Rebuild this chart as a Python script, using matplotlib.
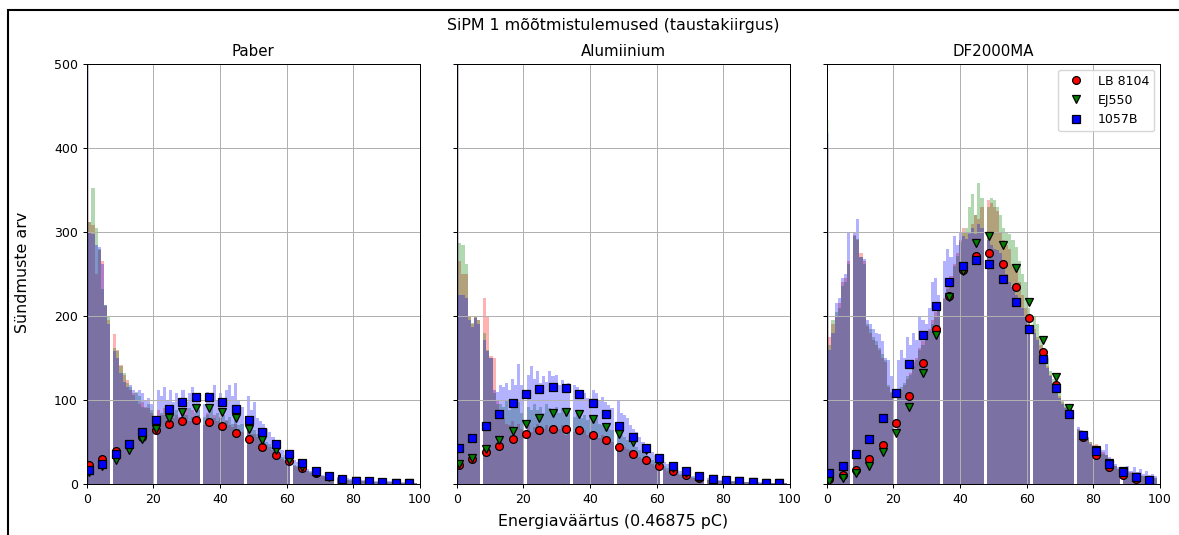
import numpy as np
import matplotlib
matplotlib.use("Agg")
import matplotlib.pyplot as plt
from matplotlib.patches import Rectangle

# ---------------- data ----------------
panel_titles = ["Paber", "Alumiinium", "DF2000MA"]
series_labels = ["LB 8104", "EJ550", "1057B"]

# energy channels of the fine histograms
channels = list(range(100))

# fine histogram counts per channel (red = LB 8104, green = EJ550, blue = 1057B)
hist_paber_r = [620, 312, 308, 250, 278, 265, 212, 195, 178, 160,
                142, 130, 124, 112, 108, 100, 95, 98, 92, 90,
                85, 88, 82, 90, 85, 88, 78, 82, 80, 86,
                90, 75, 88, 80, 82, 70, 85, 78, 82, 75,
                80, 72, 76, 70, 68, 72, 65, 62, 66, 60,
                60, 56, 54, 50, 47, 44, 40, 36, 33, 30,
                27, 25, 22, 20, 18, 17, 15, 13, 12, 11,
                10, 9, 8, 8, 7, 6, 6, 5, 5, 4,
                4, 4, 3, 3, 3, 3, 2, 2, 2, 2,
                2, 2, 1, 1, 1, 1, 1, 1, 1, 1]
hist_paber_g = [620, 312, 352, 305, 280, 232, 213, 200, 162, 158,
                140, 132, 120, 115, 106, 110, 105, 92, 90, 95,
                88, 80, 85, 82, 92, 80, 85, 88, 75, 90,
                82, 90, 80, 85, 88, 80, 82, 90, 78, 85,
                78, 82, 75, 80, 72, 78, 70, 72, 68, 65,
                64, 60, 56, 52, 50, 48, 44, 40, 36, 32,
                29, 26, 23, 21, 19, 17, 15, 14, 13, 12,
                11, 10, 9, 8, 7, 7, 6, 6, 5, 5,
                4, 4, 4, 3, 3, 3, 3, 2, 2, 2,
                2, 2, 2, 1, 1, 1, 1, 1, 1, 1]
hist_paber_b = [620, 300, 298, 285, 282, 262, 213, 190, 158, 150,
                132, 122, 115, 118, 112, 108, 112, 108, 100, 102,
                95, 112, 105, 115, 100, 112, 98, 108, 100, 112,
                98, 108, 116, 100, 102, 95, 110, 100, 118, 100,
                108, 98, 112, 118, 105, 120, 100, 92, 105, 88,
                98, 78, 75, 72, 66, 62, 56, 50, 44, 40,
                35, 31, 28, 26, 22, 20, 18, 16, 15, 14,
                12, 11, 10, 9, 9, 8, 8, 7, 7, 6,
                6, 5, 5, 5, 4, 4, 4, 3, 3, 3,
                3, 3, 2, 2, 2, 2, 2, 1, 1, 1]

hist_alu_r = [620, 265, 250, 250, 200, 190, 200, 195, 222, 200,
              152, 150, 100, 80, 78, 72, 70, 75, 68, 72,
              65, 70, 62, 68, 72, 60, 66, 70, 64, 68,
              62, 66, 70, 58, 65, 62, 66, 60, 64, 58,
              62, 56, 60, 55, 58, 52, 55, 50, 48, 46,
              44, 42, 40, 38, 35, 32, 30, 28, 26, 24,
              22, 20, 18, 16, 15, 13, 12, 11, 10, 9,
              8, 7, 7, 6, 5, 5, 4, 4, 4, 3,
              3, 3, 3, 2, 2, 2, 2, 2, 2, 1,
              1, 1, 1, 1, 1, 1, 1, 1, 1, 1]
hist_alu_g = [620, 287, 285, 262, 200, 192, 200, 195, 180, 160,
              150, 108, 95, 95, 92, 100, 88, 95, 90, 98,
              85, 92, 88, 95, 88, 92, 85, 95, 90, 86,
              92, 84, 90, 82, 88, 80, 84, 78, 82, 76,
              80, 74, 78, 72, 70, 68, 66, 64, 62, 58,
              56, 52, 50, 46, 44, 40, 37, 34, 31, 28,
              26, 24, 21, 19, 17, 15, 14, 12, 11, 10,
              9, 8, 7, 7, 6, 5, 5, 4, 4, 4,
              3, 3, 3, 3, 2, 2, 2, 2, 2, 2,
              2, 1, 1, 1, 1, 1, 1, 1, 1, 1]
hist_alu_b = [620, 225, 225, 222, 195, 187, 198, 190, 172, 158,
              150, 112, 110, 118, 115, 120, 112, 125, 118, 143,
              118, 130, 141, 125, 135, 120, 128, 122, 135, 128,
              130, 118, 124, 116, 120, 118, 116, 112, 108, 102,
              96, 112, 108, 100, 104, 98, 94, 90, 100, 84,
              82, 78, 70, 66, 62, 56, 50, 46, 42, 38,
              34, 30, 26, 24, 21, 19, 17, 15, 13, 12,
              11, 10, 9, 8, 7, 7, 6, 5, 5, 5,
              4, 4, 3, 3, 3, 3, 3, 2, 2, 2,
              2, 2, 2, 2, 1, 1, 1, 1, 1, 1]

hist_df_r = [400, 175, 190, 200, 215, 240, 245, 265, 296, 290,
             275, 265, 188, 180, 172, 165, 160, 150, 145, 116,
             108, 108, 112, 118, 125, 132, 145, 150, 162, 170,
             178, 185, 195, 205, 210, 222, 235, 248, 262, 275,
             290, 305, 300, 298, 310, 320, 315, 330, 338, 335,
             330, 325, 300, 290, 285, 280, 262, 255, 240, 225,
             210, 198, 185, 175, 165, 150, 140, 130, 120, 112,
             105, 98, 92, 86, 80, 66, 62, 58, 55, 50,
             46, 48, 42, 38, 35, 30, 26, 22, 18, 17,
             15, 14, 13, 12, 11, 10, 9, 9, 8, 7]
hist_df_g = [433, 165, 195, 205, 210, 236, 240, 262, 295, 292,
             270, 262, 190, 185, 175, 170, 162, 155, 148, 118,
             110, 110, 115, 120, 128, 130, 140, 148, 160, 165,
             175, 182, 190, 200, 208, 220, 232, 245, 260, 272,
             288, 300, 305, 330, 345, 320, 358, 340, 330, 340,
             338, 330, 320, 305, 300, 298, 290, 282, 265, 250,
             240, 210, 200, 190, 175, 160, 150, 135, 125, 115,
             108, 100, 95, 88, 82, 64, 60, 58, 52, 50,
             45, 44, 40, 36, 34, 28, 25, 22, 18, 16,
             14, 13, 12, 11, 10, 10, 9, 8, 8, 7]
hist_df_b = [418, 160, 180, 215, 222, 245, 250, 300, 300, 316,
             270, 268, 195, 190, 185, 180, 178, 170, 150, 148,
             128, 148, 160, 150, 175, 165, 180, 172, 200, 195,
             190, 210, 240, 245, 225, 265, 280, 270, 295, 285,
             300, 295, 292, 300, 305, 298, 310, 305, 290, 285,
             280, 278, 275, 260, 250, 240, 235, 225, 218, 210,
             200, 190, 180, 172, 160, 148, 138, 128, 118, 110,
             102, 95, 90, 84, 78, 68, 64, 60, 56, 48,
             44, 42, 44, 40, 48, 32, 28, 24, 20, 18,
             22, 15, 20, 14, 18, 12, 16, 11, 12, 10]

# coarse points (bin centres and values)
point_x = [0.75, 4.75, 8.75, 12.75, 16.75, 20.75, 24.75, 28.75, 32.75, 36.75,
           40.75, 44.75, 48.75, 52.75, 56.75, 60.75, 64.75, 68.75, 72.75, 76.75,
           80.75, 84.75, 88.75, 92.75, 96.75]

pts_paber_r = [23, 30, 39, 46, 56, 64, 71, 75, 76, 74, 69, 61, 54, 44, 35, 27, 19, 13, 9, 5, 3, 2, 1.5, 1, 0.8]
pts_paber_g = [14, 22, 29, 40, 54, 66, 79, 86, 90, 90, 86, 79, 65, 52, 40, 29, 20, 13, 8, 5, 3, 2, 1.5, 1, 1]
pts_paber_b = [17, 24, 36, 48, 62, 76, 89, 98, 104, 104, 98, 89, 76, 62, 48, 36, 25, 16, 10, 6, 4, 3, 2.5, 1.5, 1.5]

pts_alu_r = [22.6, 30, 37.7, 45, 53.6, 59, 64, 66, 66, 64, 58, 52, 44, 36, 28.6, 21.8, 15.5, 10.7, 7, 4.5, 3, 2, 1.5, 1, 0.8]
pts_alu_g = [24, 31, 42, 52, 63, 71, 79, 84, 86, 83, 77, 68, 59.5, 49.6, 40.5, 27, 19, 13, 8.5, 5.5, 4, 3, 2, 1.5, 1]
pts_alu_b = [42.5, 54.4, 69.4, 83.3, 96.8, 107, 113.5, 116, 114, 107, 97, 83, 69.4, 56, 42.5, 31, 22, 16, 9.5, 6.3, 4.8, 3.5, 2.5, 1.7, 1.5]

pts_df_r = [5.6, 10.7, 16.7, 29.4, 47, 72.6, 104.8, 143.7, 185, 223.8, 254.8, 271.8, 275.4, 261.5, 234, 198, 157.5, 117.9, 84, 56.3, 34, 20, 10.7, 5.6, 3]
pts_df_g = [4, 6.7, 12.7, 21.4, 37.7, 60.3, 92, 131.8, 177.4, 222.2, 253, 286.5, 295, 285, 256.8, 217, 171.4, 127.8, 90, 57, 40.5, 25, 15, 8, 4]
pts_df_b = [12.7, 22, 35.7, 54, 79, 108.3, 142.5, 177.4, 212, 240, 260, 267, 261.5, 244.4, 217, 184.5, 149, 114, 83, 58, 39.3, 23.8, 14.7, 8.3, 4.8]

hists = [(hist_paber_r, hist_paber_g, hist_paber_b),
         (hist_alu_r, hist_alu_g, hist_alu_b),
         (hist_df_r, hist_df_g, hist_df_b)]
points = [(pts_paber_r, pts_paber_g, pts_paber_b),
          (pts_alu_r, pts_alu_g, pts_alu_b),
          (pts_df_r, pts_df_g, pts_df_b)]

# ---------------- style ----------------
plt.rcParams.update({
    "font.family": ["DejaVu Sans"],
    "font.size": 9,
    "axes.titlesize": 10.8,
    "figure.titlesize": 11.4,
    "figure.labelsize": 11.4,
    "axes.linewidth": 0.72,
    "xtick.major.width": 0.72,
    "ytick.major.width": 0.72,
    "xtick.major.size": 3.15,
    "ytick.major.size": 3.15,
    "xtick.major.pad": 3.1,
    "ytick.major.pad": 3.1,
    "grid.linewidth": 0.72,
    "legend.fontsize": 9,
    "lines.markersize": 5.6,
})

fig, axes = plt.subplots(1, 3, figsize=(11.79, 5.35), dpi=100, sharey=True)
fig.subplots_adjust(left=0.0735, right=0.9839, bottom=0.0953, top=0.8804, wspace=0.11)

bin_w = 0.931
edges = -0.418 + bin_w * np.arange(112)
hist_colors = ["red", "green", "blue"]
markers = ["o", "v", "s"]

for ax, title, hs, ps in zip(axes, panel_titles, hists, points):
    for h, c in zip(hs, hist_colors):
        _, _, bars = ax.hist(channels, bins=edges, weights=h, color=c, alpha=0.3)
        bars[0].set_snap(False)   # keep the narrow first bin visible at the axis edge
    for p, c, m, lab in zip(ps, hist_colors, markers, series_labels):
        ax.plot(point_x, p, linestyle="None", marker=m, color=c,
                markeredgecolor="black", markeredgewidth=0.9, label=lab)
    ax.set_xlim(0, 100)
    ax.set_ylim(0, 500)
    ax.set_xticks([0, 20, 40, 60, 80, 100])
    ax.set_yticks([0, 100, 200, 300, 400, 500])
    ax.grid(True)
    ax.set_title(title, pad=5.4)

axes[2].legend(loc="upper right", borderaxespad=0.45)

fig.suptitle("SiPM 1 mõõtmistulemused (taustakiirgus)", x=0.52, y=0.953, va="center")
fig.supxlabel("Energiaväärtus (0.46875 pC)", x=0.52, y=0.026, va="center")
fig.supylabel("Sündmuste arv", x=0.0187, y=0.49, va="center", ha="center")

frame = Rectangle((8 / 1179, -0.1), 1.2, 1.1 - 9.5 / 535, transform=fig.transFigure,
                  fill=False, edgecolor="black", linewidth=1.5, clip_on=False)
fig.add_artist(frame)

fig.savefig("out.png", dpi=100)
